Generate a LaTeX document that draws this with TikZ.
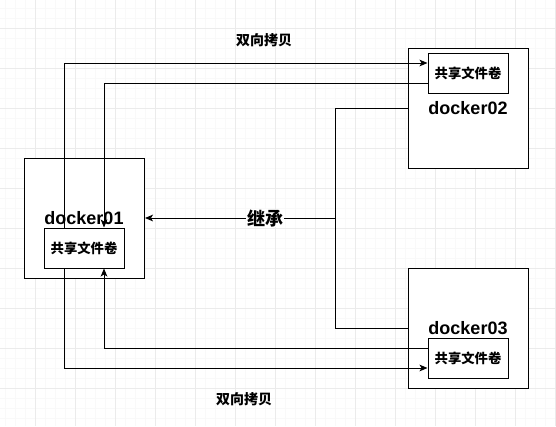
\documentclass[tikz,border=0pt]{standalone}
\usepackage{fontspec}
\setmainfont{Liberation Sans}
\newfontfamily\cjk{Noto Sans CJK SC}
\usetikzlibrary{arrows.meta}

\tikzset{
  box/.style={draw, line width=0.75pt, fill=white, minimum width=90pt, minimum height=90pt, inner sep=0pt},
  share/.style={draw, line width=0.75pt, fill=white, minimum width=60pt, minimum height=30pt, inner sep=0pt, font=\cjk\bfseries\fontsize{10}{12}\selectfont},
  dname/.style={font=\bfseries\fontsize{13.5}{15}\selectfont, inner sep=0pt},
  tag/.style={font=\cjk\bfseries\fontsize{10.5}{12}\selectfont, inner sep=1pt},
  link/.style={line width=0.75pt, -{Stealth[length=6pt,width=5pt,inset=1.5pt]}},
}

\begin{document}
\begin{tikzpicture}[x=0.75pt, y=-0.75pt]
\useasboundingbox[fill=white] (0,0) rectangle (556,426);

% Grid
\foreach \gx in {5,15,...,555} \draw[gray!5, line width=0.75pt] (\gx,0) -- (\gx,426);
\foreach \gy in {8,18,...,425} \draw[gray!5, line width=0.75pt] (0,\gy) -- (556,\gy);
\foreach \gx in {35,75,...,555} \draw[gray!16, line width=0.75pt] (\gx,0) -- (\gx,426);
\foreach \gy in {28,68,...,425} \draw[gray!16, line width=0.75pt] (0,\gy) -- (556,\gy);

% Containers
\node (d01) at (84.5,218) [box] {};
\node (d02) at (468,108) [box] {};
\node (d03) at (468,328) [box] {};

% Names
\node (n01) at (84,218) [dname] {docker01};
\node (n02) at (468,108) [dname] {docker02};
\node (n03) at (468,328) [dname] {docker03};

% Shared volumes
\node (v01) at (84,248) [share] {共享文件卷};
\node (v02) at (468,73) [share] {共享文件卷};
\node (v03) at (468,358) [share] {共享文件卷};

% Copy both ways (top)
\draw[link] ([xshift=-15pt]v01.north) |- ([yshift=7.5pt]v02.west);
\draw[link] ([yshift=-7.5pt]v02.west) -| ([xshift=15pt]v01.north);

% Copy both ways (bottom)
\draw[link] ([xshift=-15pt]v01.south) |- ([yshift=-7.5pt]v03.west);
\draw[link] ([yshift=7.5pt]v03.west) -| ([xshift=15pt]v01.south);

% Inheritance
\coordinate (jn) at (335,218);
\draw[line width=0.75pt] (d02.west) -| (jn);
\draw[line width=0.75pt] (d03.west) -| (jn);
\draw[link] (jn) -- (d01.east);
\node (inh) at (265,218) [fill=white, inner sep=0.5pt, font=\cjk\bfseries\fontsize{13.5}{15}\selectfont] {继承};

% Labels
\node (tcopy) at (264,40) [tag] {双向拷贝};
\node (bcopy) at (244,399) [tag] {双向拷贝};

\end{tikzpicture}
\end{document}
